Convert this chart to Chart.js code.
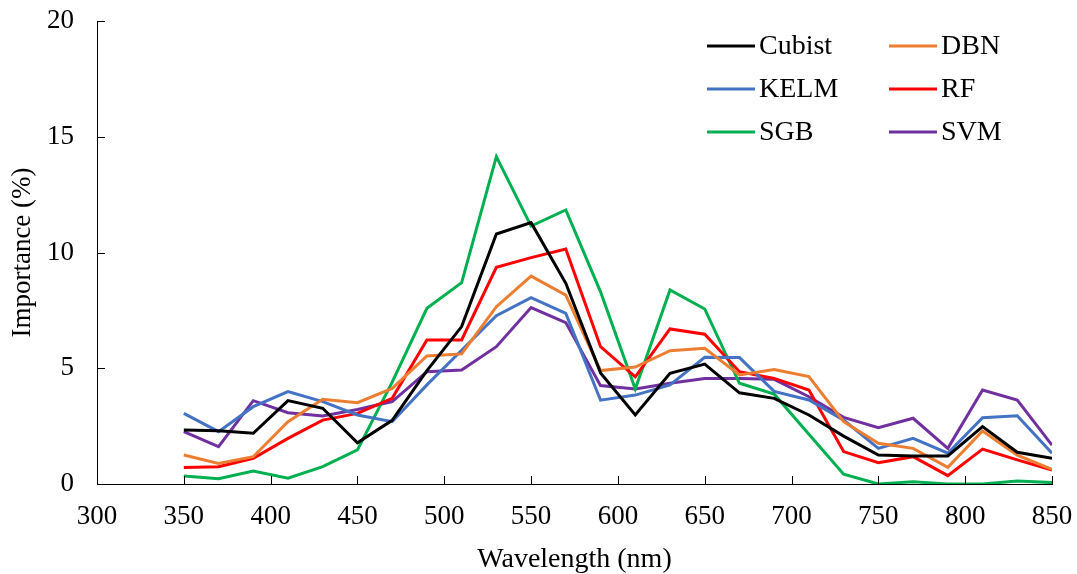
<!DOCTYPE html>
<html>
<head>
<meta charset="utf-8">
<script src="https://cdn.jsdelivr.net/npm/chart.js@4.4.1/dist/chart.umd.min.js"></script>
<style>
  html, body { margin: 0; padding: 0; background: #fff; }
  #wrap { width: 1077px; height: 574px; }
</style>
</head>
<body>
<div id="wrap"><canvas id="importanceChart"></canvas></div>
<script>
// wavelengths (nm) where importance was measured
const wavelengths = [350, 370, 390, 410, 430, 450, 470, 490, 510, 530, 550, 570, 590,
                     610, 630, 650, 670, 690, 710, 730, 750, 770, 790, 810, 830, 850];

const cubist = [2.33, 2.30, 2.19, 3.60, 3.27, 1.78, 2.75, 4.90, 6.80, 10.80, 11.29, 8.67, 4.80,
                2.98, 4.78, 5.18, 3.94, 3.70, 2.98, 2.07, 1.25, 1.21, 1.21, 2.48, 1.37, 1.11];
const dbn = [1.25, 0.89, 1.18, 2.69, 3.66, 3.51, 4.13, 5.53, 5.62, 7.66, 8.98, 8.16, 4.90,
             5.05, 5.76, 5.86, 4.71, 4.95, 4.64, 2.69, 1.76, 1.54, 0.72, 2.29, 1.25, 0.63];
const kelm = [3.05, 2.26, 3.34, 3.99, 3.56, 2.98, 2.69, 4.28, 5.78, 7.27, 8.05, 7.37, 3.62,
              3.84, 4.28, 5.47, 5.46, 4.00, 3.63, 2.76, 1.54, 1.97, 1.33, 2.86, 2.95, 1.33];
const rf = [0.71, 0.75, 1.11, 1.97, 2.76, 3.05, 3.70, 6.22, 6.22, 9.36, 9.78, 10.15, 5.93,
            4.63, 6.70, 6.47, 4.85, 4.56, 4.06, 1.40, 0.92, 1.18, 0.36, 1.51, 1.04, 0.60];
const sgb = [0.35, 0.23, 0.56, 0.25, 0.75, 1.47, 4.40, 7.59, 8.70, 14.14, 11.14, 11.84, 8.30,
             4.10, 8.38, 7.56, 4.35, 3.88, 2.15, 0.42, 0.00, 0.10, 0.00, 0.00, 0.13, 0.06];
const svm = [2.26, 1.61, 3.60, 3.08, 2.94, 3.22, 3.56, 4.85, 4.92, 5.93, 7.62, 6.97, 4.25,
             4.10, 4.35, 4.56, 4.56, 4.52, 3.77, 2.88, 2.43, 2.84, 1.54, 4.06, 3.63, 1.68];

const seriesNames = ['Cubist', 'DBN', 'KELM', 'RF', 'SGB', 'SVM'];
const seriesValues = [cubist, dbn, kelm, rf, sgb, svm];
const seriesColors = ['#000000', '#ED7D31', '#4472C4', '#FF0000', '#00B050', '#7030A0'];

const FONT = "'Liberation Serif', 'Times New Roman', serif";

const datasets = seriesNames.map(function (name, i) {
    return {
        label: name,
        data: wavelengths.map(function (w, j) { return { x: w, y: seriesValues[i][j] }; }),
        borderColor: seriesColors[i],
        backgroundColor: seriesColors[i],
        borderWidth: 3,
        pointRadius: 0,
        tension: 0,
        fill: false
    };
});

// ticks that point into the plot, like the original
const innerTicks = {
    id: 'innerTicks',
    afterDraw: function (chart) {
        const ctx = chart.ctx;
        const area = chart.chartArea;
        const xs = chart.scales.x;
        const ys = chart.scales.y;
        ctx.save();
        ctx.strokeStyle = '#000';
        ctx.lineWidth = 1;
        ctx.beginPath();
        xs.ticks.forEach(function (t) {
            const px = Math.round(xs.getPixelForValue(t.value)) + 0.5;
            ctx.moveTo(px, area.bottom);
            ctx.lineTo(px, area.bottom - 8);
        });
        ys.ticks.forEach(function (t) {
            const py = Math.round(ys.getPixelForValue(t.value)) + 0.5;
            ctx.moveTo(area.left, py);
            ctx.lineTo(area.left + 8, py);
        });
        ctx.stroke();
        ctx.restore();
    }
};

// two-column legend in the upper right of the plot
const gridLegend = {
    id: 'gridLegend',
    afterDraw: function (chart) {
        const ctx = chart.ctx;
        const cols = [707, 889];
        const rows = [46, 89, 132];
        ctx.save();
        ctx.font = '28px ' + FONT;
        ctx.textBaseline = 'middle';
        ctx.fillStyle = '#000';
        chart.data.datasets.forEach(function (ds, i) {
            const x = cols[i % 2];
            const y = rows[Math.floor(i / 2)];
            ctx.strokeStyle = ds.borderColor;
            ctx.lineWidth = 3;
            ctx.beginPath();
            ctx.moveTo(x, y);
            ctx.lineTo(x + 48, y);
            ctx.stroke();
            ctx.fillText(ds.label, x + 52, y + 1);
        });
        ctx.restore();
    }
};

const chart = new Chart(document.getElementById('importanceChart'), {
    type: 'line',
    data: { datasets: datasets },
    plugins: [innerTicks, gridLegend],
    options: {
        responsive: true,
        maintainAspectRatio: false,
        animation: false,
        layout: { padding: { top: 21, right: 25, left: 0, bottom: 0 } },
        plugins: {
            legend: { display: false },
            tooltip: { enabled: false }
        },
        scales: {
            x: {
                type: 'linear',
                min: 300,
                max: 850,
                afterFit: function (scale) {
                    scale.height = 90;
                    scale.paddingLeft = 0;
                    scale.paddingRight = 0;
                },
                grid: { display: false, drawTicks: false },
                border: { display: true, color: '#000', width: 1 },
                ticks: {
                    stepSize: 50,
                    padding: 17,
                    color: '#000',
                    font: { family: FONT, size: 27 },
                    maxRotation: 0
                },
                title: {
                    display: true,
                    text: 'Wavelength (nm)',
                    color: '#000',
                    font: { family: FONT, size: 28, lineHeight: 1 },
                    padding: { top: 0, bottom: 0 }
                }
            },
            y: {
                min: 0,
                max: 20,
                afterFit: function (scale) {
                    scale.width = 97;
                    scale.paddingTop = 0;
                    scale.paddingBottom = 0;
                },
                grid: { display: false, drawTicks: false },
                border: { display: true, color: '#000', width: 1 },
                ticks: {
                    stepSize: 5,
                    padding: 23,
                    color: '#000',
                    font: { family: FONT, size: 27 }
                },
                title: {
                    display: true,
                    text: 'Importance (%)',
                    color: '#000',
                    font: { family: FONT, size: 27, lineHeight: 1 },
                    padding: { top: 9, bottom: 0 }
                }
            }
        }
    }
});
</script>
</body>
</html>
